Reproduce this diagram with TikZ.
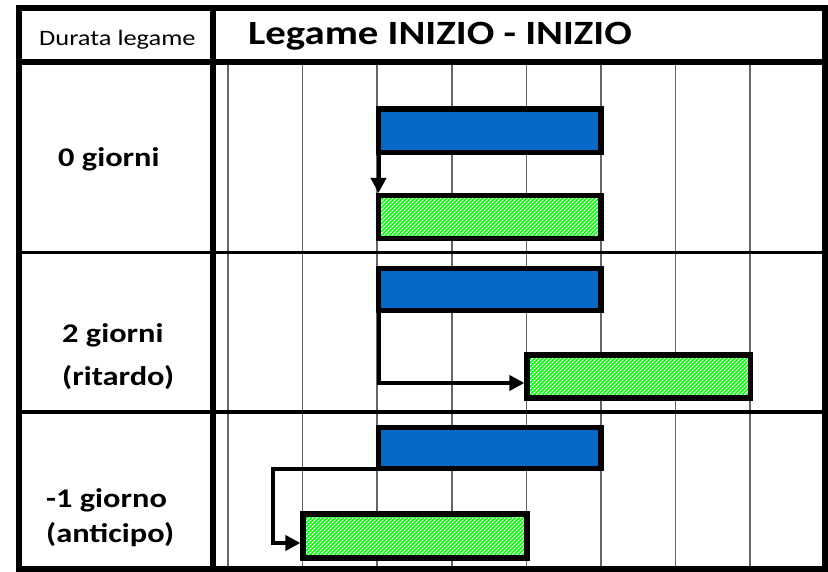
\documentclass[tikz,border=0pt]{standalone}
\usepackage{fontspec}
\setmainfont{Carlito}[FakeStretch=1.2]
\usetikzlibrary{arrows.meta}
\definecolor{barblue}{HTML}{0569C9}
\definecolor{hatchgreen}{HTML}{00FF00}
\begin{document}
\begin{tikzpicture}[x=1pt,y=-1pt,
  frame/.style={line width=6pt},
  rowrule/.style={line width=3.4pt},
  gridline/.style={line width=1.5pt, draw=black!60},
  task/.style={draw, line width=5.6pt, inner sep=0pt, outer sep=0pt, anchor=north west},
  bluebar/.style={task, fill=barblue},
  % diagonal green hatching, drawn as clipped strokes inside the bar
  greenbar/.style={task, fill=white,
    path picture={
      \foreach \d in {0,4,...,300}
        \draw[hatchgreen, line width=1.7pt]
          ([xshift=\d pt-60pt]path picture bounding box.south west) -- ++(60,-60);
    }},
  link/.style={line width=4pt, -{Triangle[length=15pt,width=15pt]}, shorten >=2.6pt},
  rowlabel/.style={font=\bfseries\fontsize{27}{27}\selectfont, anchor=base west, inner sep=0pt},
]
\useasboundingbox (0,0) rectangle (828,572);

% time grid
\foreach \gx in {228,302.6,377.2,451.8,526.4,601,675.6,750.2}
  \draw[gridline] (\gx,62) -- (\gx,569);

% row separators
\draw[rowrule] (19,252.5) -- (825,252.5);
\draw[rowrule] (19,412) -- (825,412);

% table frame, header rule and label column
\draw[frame] (19,8) rectangle (825,569);
\draw[frame] (19,62) -- (825,62);
\draw[frame] (213,8) -- (213,569);

% header texts
\node[anchor=base west, inner sep=0pt, font=\fontsize{22}{22}\selectfont] (hdur) at (39,46) {Durata legame};
\node[anchor=base west, inner sep=0pt, font=\bfseries\fontsize{34}{34}\selectfont] (htitle) at (248,45) {Legame INIZIO - INIZIO};

% row labels
\node[rowlabel] (l0) at (58,167) {0 giorni};
\node[rowlabel] (l2a) at (62,342) {2 giorni};
\node[rowlabel] (l2b) at (62,385) {(ritardo)};
\node[rowlabel] (l3a) at (46,507) {-1 giorno};
\node[rowlabel] (l3b) at (46,542) {(anticipo)};

% bars
\node[bluebar, minimum width=222.5pt, minimum height=43.5pt] (b1) at (378.5,109) {};
\node[greenbar, minimum width=222.5pt, minimum height=43pt] (g1) at (378.5,195.5) {};
\node[bluebar, minimum width=222.5pt, minimum height=42pt] (b2) at (378.5,268.5) {};
\node[greenbar, minimum width=223.5pt, minimum height=43pt] (g2) at (527,355) {};
\node[bluebar, minimum width=222.5pt, minimum height=41pt] (b3) at (378.5,427.5) {};
\node[greenbar, minimum width=224pt, minimum height=44pt] (g3) at (303,514) {};

% start-to-start links
\coordinate (k2) at (0,383);
\coordinate (k3) at (273,543);
\draw[link] (b1.south west) -- (b1.south west |- g1.north);
\draw[link] (b2.south west) |- (g2.west |- k2);
\draw[link] (b3.south west) -| (k3) -- (g3.west |- k3);
\end{tikzpicture}
\end{document}
